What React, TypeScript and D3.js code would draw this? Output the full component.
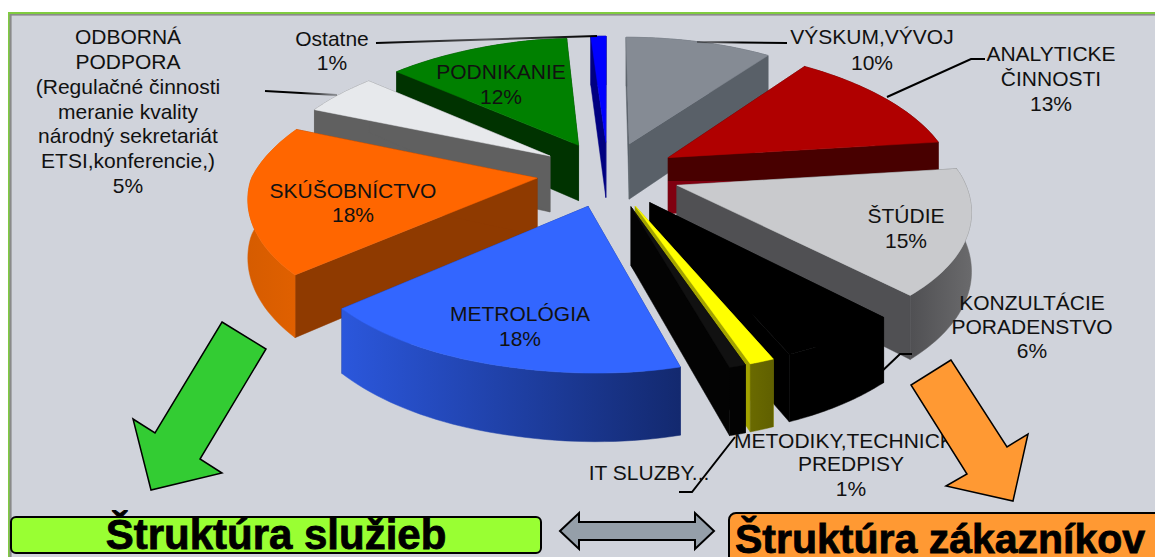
import React from "react";
import * as d3 from "d3";

const W = 1155, H = 557;
const keys = ["vyskum","analyt","studie","konz","metod","it","metro","skus","odbor","podnik","ostatne"];
const shares = [10,13,15,6,1.2,0.8,18,18,5,12,1];
const topColors = ["#858b94","#b00000","#c9cacd","#000000","#ffff00","#111111","#3366ff","#ff6600","#e7e9ec","#008000","#0000ff"];
const faceColors = ["#596068","#480000","#505053","#000000","#a3a300","#030303","#1a3080","#8f3a00","#606060","#003300","#000080"];
const wallFrom = ["#596068","#480000","#505053","#000000","#6a6a00","#030303","#2b57dc","#d65c00","#606060","#003300","#000080"];
const wallTo = ["#596068","#480000","#6a6a6c","#000000","#606000","#030303","#13296f","#e06000","#606060","#003300","#000080"];
const paintOrder = ["vyskum","ostatne","podnik","odbor","skus","analyt","studie","konz","metod","it","metro"];
const labelLines: [string, number, number][] = [
  ["ODBORNÁ",128,44],["PODPORA",128,69],["(Regulačné činnosti",128,94],["meranie kvality",128,119],["národný sekretariát",128,143],["ETSI,konferencie,)",128,168],["5%",128,193],
  ["Ostatne",332,46],["1%",332,70],
  ["VÝSKUM,VÝVOJ",872,44],["10%",872,70],
  ["ANALYTICKE",1051,61],["ČINNOSTI",1051,86],["13%",1051,111],
  ["ŠTÚDIE",906,223],["15%",906,248],
  ["KONZULTÁCIE",1032,310],["PORADENSTVO",1032,334],["6%",1032,358],
  ["METODIKY,TECHNICKÉ",851,448],["PREDPISY",851,471],["1%",851,496],
  ["IT SLUZBY...",649,480],
  ["PODNIKANIE",501,79],["12%",501,104],
  ["SKÚŠOBNÍCTVO",353,198],["18%",353,222],
  ["METROLÓGIA",520,321],["18%",520,346],
];
const leaders: [number, number][][] = [
  [[376,43],[597,36]],
  [[697,42],[787,43]],
  [[887,97],[971,59],[985,59]],
  [[878,375],[900,354],[912,354]],
  [[679,492],[692,492],[735,437]],
  [[265,91],[337,95]],
];
const leaderFade = ["mid","left","","","","right"];

const cx = 608, cy = 174, ax = 286, by = 131, perspX = 0.18, perspY = 0.15, depth = 57, explode = 0.25, skew = 20;
const project = (X: number, Y: number, z: number): [number, number] => {
  const wy = 1 - perspY * Y;
  const wx = 1 - perspX * Y;
  const near = Math.max(Y, 0), far = Math.max(-Y, 0), left = Math.max(-X, 0), right = Math.max(X, 0);
  const shift = skew * near * Math.max(0.6 - 0.75 * X, 0) - 8 * far * left - 8 * right * near;
  const lift = 5 * Math.max(-X - 0.3, 0);
  return [cx + (ax * X) / wx + shift, cy + (by * Y) / wy + lift + depth * z * Math.pow(wy, -0.9)];
};
const dir = (t: number): [number, number] => [Math.sin(t), -Math.cos(t)];
const poly = d3.line<[number, number]>();
const arcs = d3.pie<number>().sort(null).startAngle(0).endAngle(2 * Math.PI)(shares);

function Slice({ i }: { i: number }) {
  const a = arcs[i];
  const mid = (a.startAngle + a.endAngle) / 2;
  const [mx, my] = dir(mid);
  const ox = mx * explode, oy = my * explode;
  const ts = d3.range(0, 41).map((k) => a.startAngle + ((a.endAngle - a.startAngle) * k) / 40);
  const rim = (z: number) => ts.map((t) => { const [dx, dy] = dir(t); return project(ox + dx, oy + dy, z); });
  const apex = (z: number) => project(ox, oy, z);
  const top = [apex(0), ...rim(0)];
  const outer = [...rim(0), ...rim(1).reverse()];
  const rt = rim(0), rb = rim(1);
  const start = [apex(0), rt[0], rb[0], apex(1)];
  const end = [apex(0), rt[40], rb[40], apex(1)];
  const k = keys[i];
  const endFill = k === "analyt" ? "url(#analytFace)" : faceColors[i];
  return (
    <g strokeWidth={0.5} strokeLinejoin="round">
      <path d={poly(start)! + "Z"} fill={faceColors[i]} stroke={faceColors[i]} />
      <path d={poly(end)! + "Z"} fill={endFill} stroke={endFill} />
      <path d={poly(outer)! + "Z"} fill={`url(#wall-${k})`} stroke={`url(#wall-${k})`} />
      <path d={poly(top)! + "Z"} fill={topColors[i]} stroke={topColors[i]} />
    </g>
  );
}

const arrowGreen = "222,322 266,349 200,459 222,473 151,490 133,419 155,433";
const arrowOrange = "951,360 911,385 967,474 946,486 1013,501 1028,434 1007,447";
const arrowDouble = "560,531 579,513 579,522 695,522 695,513 714,531 695,549 695,540 579,540 579,549";

export default function App() {
  return (
    <svg width={W} height={H} viewBox={`0 0 ${W} ${H}`} style={{ position: "absolute", left: 0, top: 0, background: "#fff", fontFamily: "'Liberation Sans', Arial, sans-serif" }}>
      <defs>
        {keys.map((k, i) => (
          <linearGradient key={k} id={`wall-${k}`} x1="0" x2="1" y1="0" y2="0">
            <stop offset="0" stopColor={wallFrom[i]} />
            <stop offset="1" stopColor={wallTo[i]} />
          </linearGradient>
        ))}
        <linearGradient id="analytFace" x1="0" x2="0" y1="0" y2="1">
          <stop offset="0.55" stopColor="#480000" />
          <stop offset="0.55" stopColor="#800010" />
        </linearGradient>
        {leaders.map((pts, i) => leaderFade[i] ? (
          <linearGradient key={i} id={`lead-${i}`} gradientUnits="userSpaceOnUse" x1={pts[0][0]} y1={pts[0][1]} x2={pts[1][0]} y2={pts[1][1]}>
            <stop offset="0" stopColor="#000" stopOpacity={leaderFade[i] === "left" ? 0.35 : 1} />
            <stop offset="0.5" stopColor="#000" stopOpacity={leaderFade[i] === "mid" ? 0.6 : 1} />
            <stop offset="1" stopColor="#000" stopOpacity={leaderFade[i] === "right" ? 0.3 : 1} />
          </linearGradient>
        ) : null)}
      </defs>
      <rect x={9} y={13} width={W} height={H} fill="#d0d3db" />
      <rect x={9} y={14} width={W} height={1.6} fill="#8a8a8a" />
      <rect x={9} y={14} width={2.6} height={H} fill="#8a8a8a" />
      <rect x={8} y={12} width={W} height={2} fill="#80cc40" />
      <rect x={8} y={12} width={1.5} height={H} fill="#80cc40" />
      {paintOrder.map((k) => <Slice key={k} i={keys.indexOf(k)} />)}
      {leaders.map((pts, i) => (
        <path key={i} d={poly(pts as [number, number][])!} fill="none" stroke={leaderFade[i] ? `url(#lead-${i})` : "#000"} strokeWidth={2} />
      ))}
      <g fontSize={21} fill="#111" textAnchor="middle">
        {labelLines.map(([t, x, y], i) => <text key={i} x={x} y={y}>{t}</text>)}
      </g>
      <polygon points={arrowGreen} fill="#33cc33" stroke="#000" strokeWidth={1.5} />
      <polygon points={arrowOrange} fill="#ff9933" stroke="#000" strokeWidth={1.5} />
      <polygon points={arrowDouble} fill="#959fa9" stroke="#000" strokeWidth={2} />
      <rect x={11} y={517} width={530} height={36} rx={5} fill="#99ff33" stroke="#000" strokeWidth={2} />
      <rect x={729} y={513} width={460} height={60} rx={7} fill="#ff9933" stroke="#000" strokeWidth={2} />
      <text x={276} y={549} fontSize={42} fontWeight="bold" textAnchor="middle" fill="#000" stroke="#000" strokeWidth={0.8}>Štruktúra služieb</text>
      <text x={735} y={553} fontSize={41} fontWeight="bold" fill="#000" stroke="#000" strokeWidth={0.8}>Štruktúra zákazníkov</text>
    </svg>
  );
}
